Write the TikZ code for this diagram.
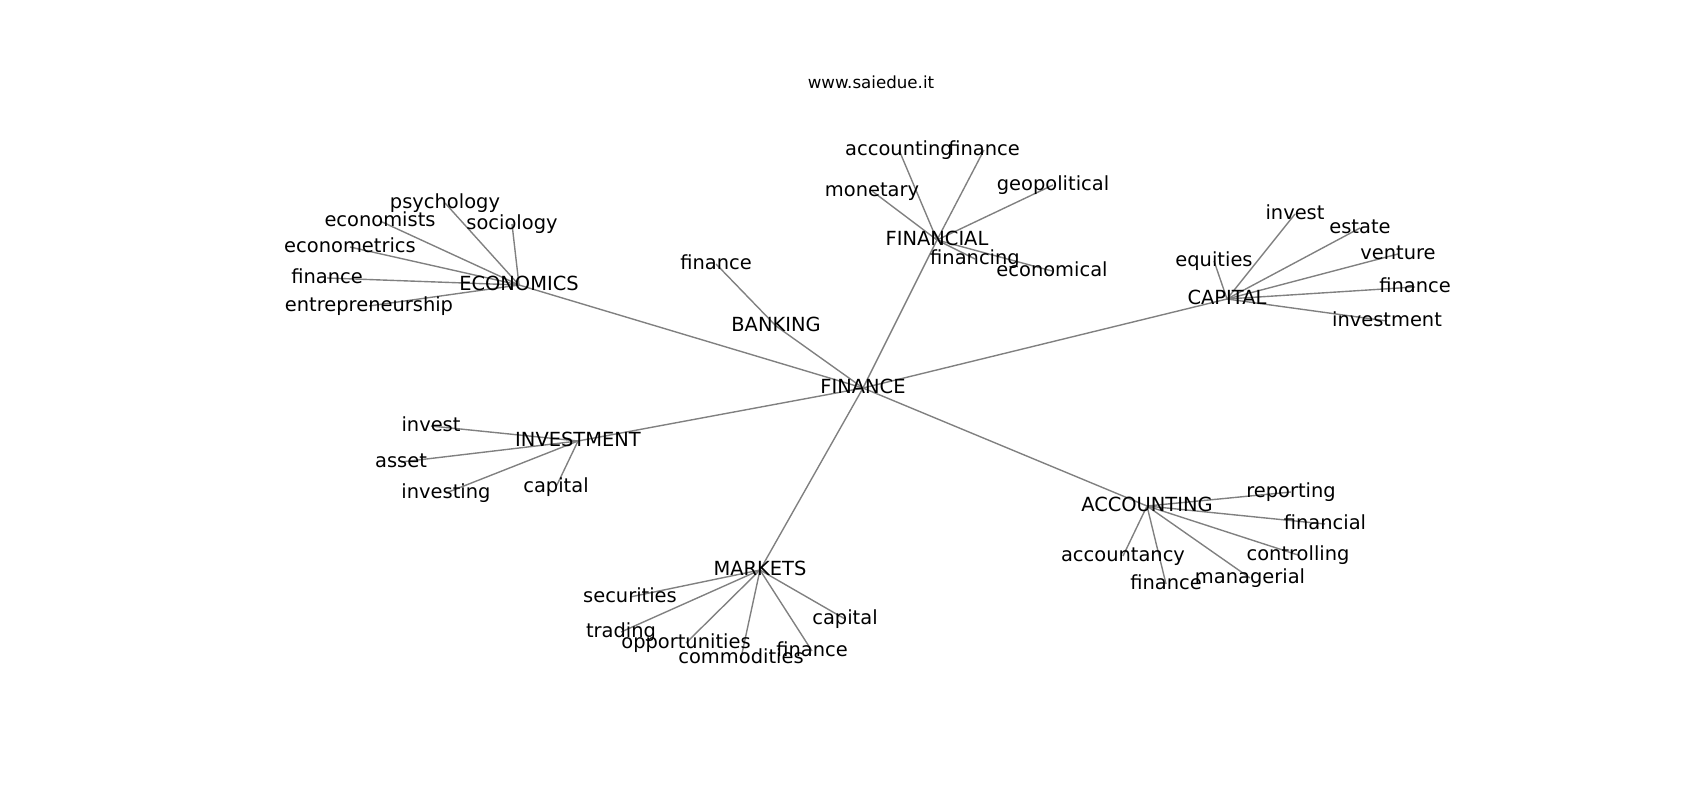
\documentclass[tikz,border=0pt]{standalone}
\usepackage{fontspec}
\setmainfont{DejaVu Sans}
\usetikzlibrary{backgrounds}

\tikzset{
  word/.style={font=\fontsize{14}{17}\selectfont, inner sep=0pt,
    text height=0.8em, text depth=0em},
  link/.style={draw=gray, line width=1pt},
}

\begin{document}
\begin{tikzpicture}[x=0.72pt, y=-0.72pt]
    \useasboundingbox (0,0) rectangle (1700,800);

    % Title
    \node[font=\fontsize{12}{14}\selectfont] (title) at (871,82) {www.saiedue.it};

    % Hub
    \node[word] (finance) at (863,388) {FINANCE};

    % Topics
    \node[word] (economics) at (519,285) {ECONOMICS};
    \node[word] (banking) at (776,326) {BANKING};
    \node[word] (financial) at (937,240) {FINANCIAL};
    \node[word] (capital) at (1227,299) {CAPITAL};
    \node[word] (investment) at (578,441) {INVESTMENT};
    \node[word] (markets) at (760,570) {MARKETS};
    \node[word] (accounting) at (1147,506) {ACCOUNTING};

    % Economics words
    \node[word] (psychology) at (445,203) {psychology};
    \node[word] (economists) at (380,221) {economists};
    \node[word] (econometrics) at (350,247) {econometrics};
    \node[word] (ecofinance) at (327,278) {finance};
    \node[word] (entrepreneurship) at (369,306) {entrepreneurship};
    \node[word] (sociology) at (512,224) {sociology};

    % Banking words
    \node[word] (bankfinance) at (716,264) {finance};

    % Financial words
    \node[word] (accountingw) at (899,150) {accounting};
    \node[word] (finfinance) at (984,150) {finance};
    \node[word] (monetary) at (872,191) {monetary};
    \node[word] (geopolitical) at (1053,185) {geopolitical};
    \node[word] (financing) at (975,259) {financing};
    \node[word] (economical) at (1052,271) {economical};

    % Capital words
    \node[word] (capinvest) at (1295,214) {invest};
    \node[word] (estate) at (1360,228) {estate};
    \node[word] (venture) at (1398,254) {venture};
    \node[word] (capfinance) at (1415,287) {finance};
    \node[word] (capinvestment) at (1387,321) {investment};
    \node[word] (equities) at (1214,261) {equities};

    % Investment words
    \node[word] (invinvest) at (431,426) {invest};
    \node[word] (asset) at (401,462) {asset};
    \node[word] (investing) at (446,493) {investing};
    \node[word] (invcapital) at (556,487) {capital};

    % Markets words
    \node[word] (securities) at (630,597) {securities};
    \node[word] (trading) at (621,632) {trading};
    \node[word] (opportunities) at (686,643) {opportunities};
    \node[word] (commodities) at (741,658) {commodities};
    \node[word] (mktfinance) at (812,651) {finance};
    \node[word] (mktcapital) at (845,619) {capital};

    % Accounting words
    \node[word] (reporting) at (1291,492) {reporting};
    \node[word] (financialw) at (1325,524) {financial};
    \node[word] (controlling) at (1298,555) {controlling};
    \node[word] (managerial) at (1250,578) {managerial};
    \node[word] (accfinance) at (1166,584) {finance};
    \node[word] (accountancy) at (1123,556) {accountancy};

    % Edges
    \begin{scope}[on background layer]
    \foreach \a/\b in {finance/economics, finance/banking, finance/financial,
        finance/capital, finance/investment, finance/markets, finance/accounting,
        economics/psychology, economics/economists, economics/econometrics,
        economics/ecofinance, economics/entrepreneurship, economics/sociology,
        banking/bankfinance,
        financial/accountingw, financial/finfinance, financial/monetary,
        financial/geopolitical, financial/financing, financial/economical,
        capital/capinvest, capital/estate, capital/venture,
        capital/capfinance, capital/capinvestment, capital/equities,
        investment/invinvest, investment/asset, investment/investing, investment/invcapital,
        markets/securities, markets/trading, markets/opportunities,
        markets/commodities, markets/mktfinance, markets/mktcapital,
        accounting/reporting, accounting/financialw, accounting/controlling,
        accounting/managerial, accounting/accfinance, accounting/accountancy}
      \draw[link] (\a.center) -- (\b.center);
    \end{scope}
\end{tikzpicture}
\end{document}
